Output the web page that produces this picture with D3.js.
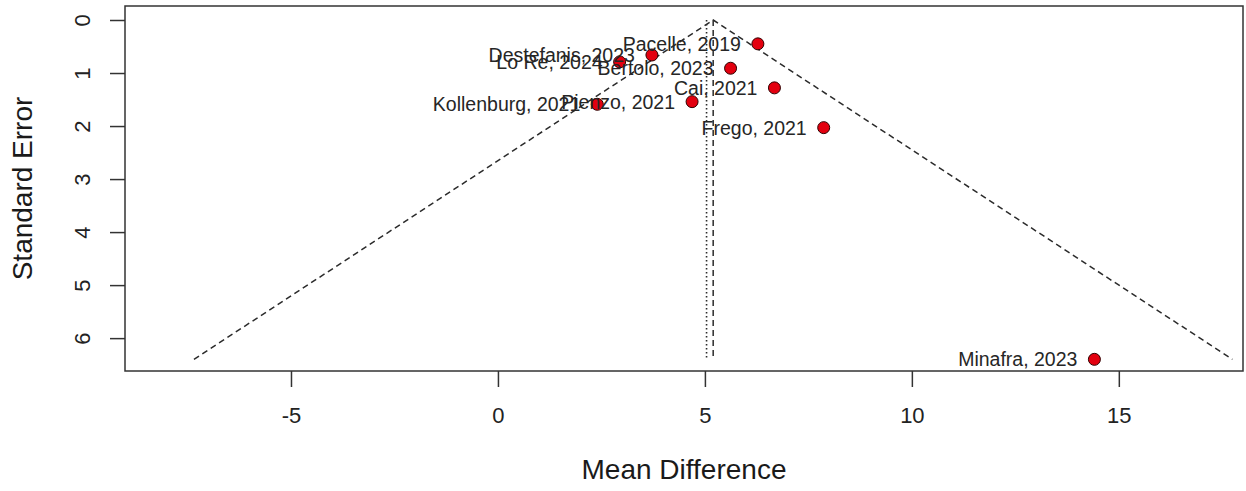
<!DOCTYPE html>
<html>
<head>
<meta charset="utf-8">
<script src="https://cdn.jsdelivr.net/npm/d3@7"></script>
<style>
  html, body { margin: 0; padding: 0; background: #fff; }
  svg { display: block; font-family: "Liberation Sans", Arial, Helvetica, sans-serif; }
</style>
</head>
<body>
<svg id="chart" width="1246" height="491"></svg>
<script>
// Study labels, effect sizes (mean difference) and standard errors
const studies = ["Pacelle, 2019", "Destefanis, 2023", "Lo Re, 2024", "Bertolo, 2023", "Cai, 2021",
                 "Kollenburg, 2021", "Pienzo, 2021", "Frego, 2021", "Minafra, 2023"];
const meanDiff = [6.28, 3.72, 2.94, 5.62, 6.68, 2.40, 4.69, 7.87, 14.41];
const stdErr   = [0.45, 0.66, 0.79, 0.91, 1.28, 1.59, 1.54, 2.03, 6.40];

// Pooled estimates: common effect (dashed) and random effects (dotted)
const commonEstimate = 5.20;
const randomEstimate = 5.04;

const xTicks = [-5, 0, 5, 10, 15];
const yTicks = [0, 1, 2, 3, 4, 5, 6];

const svg = d3.select("#chart");
const box = { left: 125, right: 1243, top: 6, bottom: 371 };

const x = d3.scaleLinear().domain([-9.01, 18.0]).range([box.left, box.right]);
const y = d3.scaleLinear().domain([-0.264, 6.62]).range([box.top, box.bottom]);

const ink = "#2b2b2b";
const maxSE = d3.max(stdErr);
const plain = d => String(d).replace("\u2212", "-");

// Funnel (95% pseudo-confidence region around the common estimate)
const funnel = [
  [commonEstimate - 1.96 * maxSE, maxSE],
  [commonEstimate, 0],
  [commonEstimate + 1.96 * maxSE, maxSE]
];
svg.append("path")
  .attr("d", d3.line().x(d => x(d[0])).y(d => y(d[1]))(funnel))
  .attr("fill", "none").attr("stroke", ink).attr("stroke-width", 1.5)
  .attr("stroke-dasharray", "6,4");

// Vertical reference lines for the pooled estimates
svg.append("line")
  .attr("x1", x(commonEstimate)).attr("x2", x(commonEstimate))
  .attr("y1", y(0)).attr("y2", y(maxSE))
  .attr("stroke", ink).attr("stroke-width", 1.5).attr("stroke-dasharray", "6,4");
svg.append("line")
  .attr("x1", x(randomEstimate)).attr("x2", x(randomEstimate))
  .attr("y1", y(0)).attr("y2", y(maxSE))
  .attr("stroke", ink).attr("stroke-width", 1.6).attr("stroke-dasharray", "1.6,2.4");

// Study points
const rows = studies.map((s, i) => ({ label: s, md: meanDiff[i], se: stdErr[i] }));
svg.append("g").selectAll("circle").data(rows).join("circle")
  .attr("cx", d => x(d.md)).attr("cy", d => y(d.se)).attr("r", 6)
  .attr("fill", "#e3000f").attr("stroke", "#300000").attr("stroke-width", 1);

// Study labels, placed to the left of each point
svg.append("g").selectAll("text").data(rows).join("text")
  .attr("x", d => x(d.md) - 17).attr("y", d => y(d.se))
  .attr("dy", "0.36em").attr("text-anchor", "end")
  .attr("font-size", 19.5).attr("fill", "#262626")
  .text(d => d.label);

// Plot frame
svg.append("rect")
  .attr("x", box.left).attr("y", box.top)
  .attr("width", box.right - box.left).attr("height", box.bottom - box.top)
  .attr("fill", "none").attr("stroke", "#333").attr("stroke-width", 1.5);

// Bottom axis
const xAxis = d3.axisBottom(x).tickValues(xTicks).tickSize(16).tickPadding(20)
  .tickFormat(plain);
const gx = svg.append("g").attr("transform", `translate(0,${box.bottom})`).call(xAxis);
gx.select(".domain").remove();
gx.selectAll(".tick line").attr("stroke", "#333").attr("stroke-width", 1.5);
gx.selectAll(".tick text").attr("font-size", 22).attr("fill", "#222")
  .attr("font-family", "Liberation Sans, Arial, sans-serif");

// Left axis with labels parallel to the axis
const yAxis = d3.axisLeft(y).tickValues(yTicks).tickSize(15).tickFormat(plain);
const gy = svg.append("g").attr("transform", `translate(${box.left},0)`).call(yAxis);
gy.select(".domain").remove();
gy.selectAll(".tick line").attr("stroke", "#333").attr("stroke-width", 1.5);
gy.selectAll(".tick text")
  .attr("x", null)
  .attr("text-anchor", "middle")
  .attr("transform", "translate(-43,0) rotate(-90)")
  .attr("dy", "0.36em")
  .attr("font-size", 22).attr("fill", "#222")
  .attr("font-family", "Liberation Sans, Arial, sans-serif");

// Axis titles
svg.append("text")
  .attr("x", (box.left + box.right) / 2).attr("y", 469).attr("dy", "0.36em")
  .attr("text-anchor", "middle").attr("font-size", 28).attr("fill", "#1a1a1a")
  .text("Mean Difference");
svg.append("text")
  .attr("transform", `translate(22,${(box.top + box.bottom) / 2}) rotate(-90)`)
  .attr("dy", "0.36em")
  .attr("text-anchor", "middle").attr("font-size", 28).attr("fill", "#1a1a1a")
  .text("Standard Error");
</script>
</body>
</html>
